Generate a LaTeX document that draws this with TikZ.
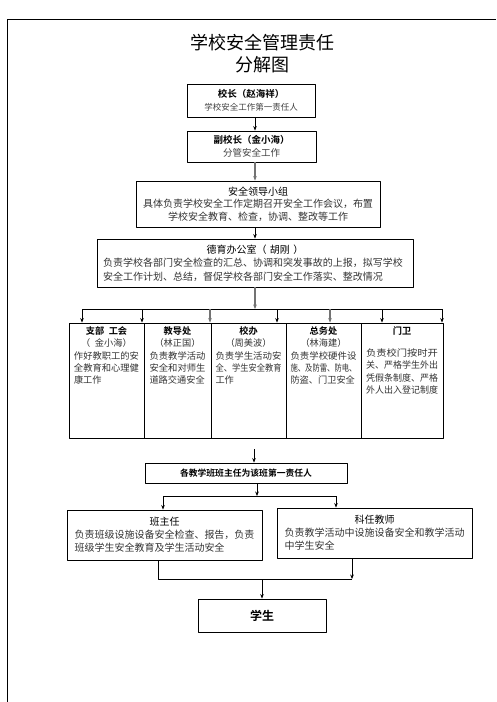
\documentclass[tikz,border=0pt]{standalone}
\usepackage{fontspec}
\setmainfont{Noto Sans CJK SC}[BoldFont={Noto Sans CJK SC Bold}]
\usepackage{graphicx}
\usetikzlibrary{positioning,arrows.meta}

\newcommand{\fitline}[1]{\resizebox{\linewidth}{\height}{#1}}
\newcommand{\midline}[1]{\makebox[\linewidth]{#1}}

\tikzset{
  box/.style={draw,line width=0.9pt,inner sep=0pt},
  body/.style={font=\fontsize{10}{13}\selectfont,text=black!80},
  depttxt/.style={inner sep=0pt,align=left,font=\fontsize{9.2}{12.3}\selectfont,text=black!80},
  arr/.style={-{Stealth[length=4.5pt,width=3.6pt]},line width=0.7pt},
  thickgray/.style={draw=black!55,line width=1.6pt},
}

\begin{document}
\begin{tikzpicture}[line join=round,x=1pt,y=-1pt]
\useasboundingbox (0,0) rectangle (496,702);

% 外框
\draw[line width=0.9pt] (7,702) -- (7,19) -- (496,19);

% 标题
\node[font=\fontsize{18}{22}\selectfont] (title) at (262,43) {学校安全管理责任};
\node[font=\fontsize{18}{22}\selectfont] (subtitle) at (262,65) {分解图};

\coordinate (spine) at (255,0);

% 上层
\node[box,minimum width=128pt,minimum height=33pt,align=center,font=\fontsize{9.5}{13}\selectfont] (principal) at (251,100.5)
  {\textbf{校长（赵海祥）}\\{\fontsize{8.5}{13}\selectfont\color{black!75}学校安全工作第一责任人}};
\node[box,minimum width=129pt,minimum height=31pt,align=center,font=\fontsize{9.5}{13}\selectfont] (vice) at (251.5,146.5)
  {\textbf{副校长（金小海）}\\{\color{black!75}分管安全工作}};
\node[box,minimum width=244pt,minimum height=46pt,align=center,body,font=\fontsize{10}{12.5}\selectfont] (group) at (258,204)
  {{\color{black}安全领导小组}\\具体负责学校安全工作定期召开安全工作会议，布置\\学校安全教育、检查，协调、整改等工作};
\node[box,minimum width=316pt,minimum height=48pt,text width=304pt,align=left,body,font=\fontsize{10}{13.5}\selectfont] (moral) at (255,263)
  {\midline{\color{black}德育办公室（ 胡刚 ）}\\负责学校各部门安全检查的汇总、协调和突发事故的上报，拟写学校\\安全工作计划、总结，督促学校各部门安全工作落实、整改情况};

\draw[arr] (principal.south -| spine) -- (vice.north -| spine);
\draw[arr,thickgray] (vice.south -| spine) -- (group.north -| spine);
\draw[arr] (group.south -| spine) -- (moral.north -| spine);

% 各部门
\node[box,minimum width=75pt,minimum height=115pt] (d1) at (106.5,380.5) {};
\node[box,minimum width=67pt,minimum height=115pt] (d2) at (177.5,380.5) {};
\node[box,minimum width=75pt,minimum height=115pt] (d3) at (248.5,380.5) {};
\node[box,minimum width=75pt,minimum height=115pt] (d4) at (323.5,380.5) {};
\node[box,minimum width=82pt,minimum height=115pt] (d5) at (402,380.5) {};

\node[depttxt,text width=65pt,below=4pt of d1.north] (t1)
  {\midline{\textbf{\color{black}支部\enspace 工会}}\\\midline{（\enspace 金小海）}\\\fitline{作好教职工的安}\\\fitline{全教育和心理健}\\康工作};
\node[depttxt,text width=56pt,below=4pt of d2.north] (t2)
  {\midline{\textbf{\color{black}教导处}}\\\midline{（林正国）}\\\fitline{负责教学活动}\\\fitline{安全和对师生}\\道路交通安全};
\node[depttxt,text width=66pt,below=4pt of d3.north] (t3)
  {\midline{\textbf{\color{black}校办}}\\\midline{（周美波）}\\\fitline{负责学生活动安}\\\fitline{全、学生安全教育}\\工作};
\node[depttxt,text width=66pt,below=4pt of d4.north] (t4)
  {\midline{\textbf{\color{black}总务处}}\\\midline{（林海建）}\\\fitline{负责学校硬件设}\\\fitline{施、及防雷、防电、}\\防盗、门卫安全};
\node[depttxt,text width=72pt,below=4pt of d5.north] (t5)
  {\midline{\textbf{\color{black}门卫}}\\[9.7pt]\fitline{负责校门按时开}\\\fitline{关、严格学生外出}\\\fitline{凭假条制度、严格}\\\fitline{外人出入登记制度}};

\coordinate (busL) at (82,309);
\coordinate (busR) at (442,309);
\draw[arr,thickgray] (moral.south -| spine) -- (busL -| spine);
\draw[line width=0.8pt] (busL) -- (busR);
\foreach \dx in {82,142,277,382,442}
  \draw[arr] (busL -| \dx,0) -- (d1.north -| \dx,0);
\foreach \dx in {210,330}
  \draw[arr,thickgray] (busL -| \dx,0) -- (d1.north -| \dx,0);

% 班级
\node[box,minimum width=202pt,minimum height=20pt,font=\fontsize{8.8}{10}\selectfont\bfseries] (classhead) at (246,473) {各教学班班主任为该班第一责任人};
\node[box,minimum width=195pt,minimum height=50pt,text width=180pt,align=left,body] (banzhuren) at (164.5,535)
  {\midline{\color{black}班主任}\\负责班级设施设备安全检查、报告，负责\\班级学生安全教育及学生活动安全};
\node[box,minimum width=195pt,minimum height=50pt,text width=180pt,align=left,body] (keren) at (374.5,533)
  {\midline{\color{black}科任教师}\\负责教学活动中设施设备安全和教学活动\\中学生安全};
\node[box,minimum width=128pt,minimum height=33pt,font=\fontsize{12}{14}\selectfont\bfseries] (student) at (262,615.5) {学生};

\coordinate (cstart) at (254,449);
\draw[arr] (cstart) -- (classhead.north -| cstart);

\coordinate (split) at (257,496);
\coordinate (sL) at (163,496);
\coordinate (sR) at (336,496);
\draw[arr] (classhead.south -| split) -- (split);
\draw[line width=0.8pt] (sL) -- (sR);
\draw[arr] (sL) -- (banzhuren.north -| sL);
\draw[arr] (sR) -- (keren.north -| sR);

\coordinate (jL) at (158,579);
\coordinate (jR) at (352,579);
\coordinate (join) at (262,579);
\draw[line width=0.8pt] (banzhuren.south -| jL) -- (jL) -- (jR);
\draw[arr] (keren.south -| jR) -- (jR);
\draw[arr] (join) -- (student.north);
\end{tikzpicture}
\end{document}
